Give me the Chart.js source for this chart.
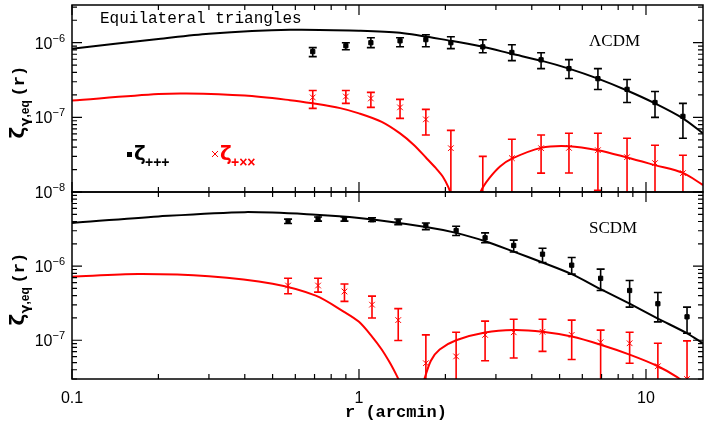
<!DOCTYPE html>
<html>
<head>
<meta charset="utf-8">
<script src="https://cdn.jsdelivr.net/npm/chart.js@4/dist/chart.umd.min.js"></script>
<style>
  body { margin: 0; background: #fff; }
  #wrap { position: relative; width: 708px; height: 424px; }
  canvas { position: absolute; left: 0; top: 0; }
</style>
</head>
<body>
<div id="wrap">
  <canvas id="topChart" width="708" height="424"></canvas>
  <canvas id="botChart" width="708" height="424"></canvas>
</div>
<script>
// ---- data (units of 1e-6) ----
// top panel: LCDM
const rTop = [0.69, 0.90, 1.10, 1.39, 1.71, 2.09, 2.70, 3.41, 4.31, 5.39, 6.80, 8.59, 10.75, 13.45];
const topPlus = [0.76, 0.91, 1.0, 1.06, 1.1, 1.0, 0.88, 0.74, 0.59, 0.45, 0.33, 0.237, 0.158, 0.103];
const topPlusHi = [0.858, 1.0, 1.166, 1.166, 1.28, 1.20, 1.096, 0.94, 0.735, 0.593, 0.45, 0.321, 0.222, 0.154];
const topPlusLo = [0.651, 0.806, 0.858, 0.884, 0.884, 0.832, 0.735, 0.575, 0.45, 0.331, 0.236, 0.158, 0.1, 0.0525];
const topCross = [0.185, 0.19, 0.179, 0.136, 0.094, 0.0386, 0.005, 0.0284, 0.0386, 0.039, 0.0363, 0.0293, 0.0244, 0.0179];
const topCrossHi = [0.229, 0.229, 0.216, 0.174, 0.128, 0.067, 0.030, 0.051, 0.058, 0.0613, 0.0613, 0.0525, 0.0423, 0.0311];
const topCrossLo = [0.132, 0.154, 0.136, 0.097, 0.058, 0.001, 0.001, 0.001, 0.0179, 0.018, 0.0105, 0.001, 0.001, 0.001];

const rTopModelPlus = [0.1, 0.2, 0.3, 0.575, 1.0, 1.39, 2.09, 2.70, 3.41, 4.31, 5.39, 6.80, 8.59, 10.75, 13.45, 15.8];
const topModelPlus = [0.83, 1.12, 1.32, 1.49, 1.45, 1.36, 1.06, 0.88, 0.71, 0.575, 0.45, 0.33, 0.229, 0.154, 0.097, 0.061];
const rTopModelCrossA = [0.1, 0.2, 0.25, 0.4, 0.575, 0.69, 0.86, 1.0, 1.2, 1.39, 1.55, 1.71, 1.85, 1.96, 2.05, 2.12];
const topModelCrossA = [0.168, 0.205, 0.209, 0.196, 0.17, 0.154, 0.133, 0.113, 0.087, 0.061, 0.043, 0.029, 0.021, 0.016, 0.0115, 0.008];
const rTopModelCrossB = [2.6, 2.7, 2.85, 3.1, 3.41, 4.31, 5.39, 6.80, 8.59, 10.75, 13.45, 15.8];
const topModelCrossB = [0.0085, 0.0115, 0.0155, 0.022, 0.028, 0.039, 0.041, 0.0363, 0.029, 0.0229, 0.018, 0.0124];

// bottom panel: SCDM
const rBot = [0.566, 0.72, 0.89, 1.11, 1.37, 1.71, 2.18, 2.75, 3.46, 4.36, 5.51, 6.95, 8.77, 11.0, 13.9];
const botPlus = [4.02, 4.32, 4.32, 4.23, 3.95, 3.52, 3.02, 2.41, 1.9, 1.45, 1.03, 0.685, 0.469, 0.311, 0.207];
const botPlusHi = [4.3, 4.6, 4.6, 4.5, 4.33, 3.82, 3.45, 2.81, 2.24, 1.74, 1.31, 0.91, 0.64, 0.44, 0.28];
const botPlusLo = [3.75, 4.05, 4.05, 4.0, 3.63, 3.11, 2.59, 2.07, 1.55, 1.12, 0.78, 0.47, 0.28, 0.177, 0.124];
const botCross = [0.547, 0.547, 0.455, 0.302, 0.187, 0.049, 0.0605, 0.118, 0.128, 0.13, 0.118, 0.094, 0.091, 0.0446, 0.03];
const botCrossHi = [0.685, 0.685, 0.575, 0.394, 0.267, 0.118, 0.128, 0.181, 0.192, 0.192, 0.187, 0.137, 0.128, 0.091, 0.098];
const botCrossLo = [0.423, 0.446, 0.334, 0.2, 0.099, 0.001, 0.001, 0.053, 0.0575, 0.0707, 0.055, 0.001, 0.049, 0.001, 0.001];

const rBotModelPlus = [0.1, 0.2, 0.4, 0.707, 1.0, 1.71, 2.18, 2.75, 3.46, 4.36, 5.51, 6.95, 8.77, 11.0, 13.9, 15.8];
const botModelPlus = [3.82, 4.68, 5.35, 4.94, 4.46, 3.38, 2.81, 2.17, 1.57, 1.12, 0.78, 0.49, 0.311, 0.196, 0.124, 0.091];
const rBotModelCrossA = [0.1, 0.17, 0.3, 0.5, 0.707, 0.89, 1.0, 1.11, 1.2, 1.28, 1.34, 1.39];
const botModelCrossA = [0.72, 0.78, 0.73, 0.58, 0.40, 0.24, 0.177, 0.112, 0.075, 0.05, 0.036, 0.027];
const rBotModelCrossB = [1.68, 1.78, 1.91, 2.18, 2.75, 3.46, 4.36, 5.51, 6.95, 8.77, 11.0, 12.8, 14.5];
const botModelCrossB = [0.028, 0.053, 0.075, 0.1, 0.127, 0.137, 0.13, 0.112, 0.087, 0.064, 0.0446, 0.032, 0.022];

const xMin = 0.1, xMax = 15.8;
const RED = "#ff0000";

const pts = (xs, ys) => xs.map((x, i) => ({ x: x, y: ys[i] * 1e-6 }));

function curve(xs, ys, color) {
  return { type: "line", data: pts(xs, ys), borderColor: color, borderWidth: 2,
    pointRadius: 0, tension: 0.3, fill: false };
}
function markers(xs, ys, color, style, r) {
  return { type: "scatter", data: pts(xs, ys), borderColor: color, backgroundColor: color,
    pointStyle: style, pointRadius: r, borderWidth: 1, showLine: false };
}

function sup(ctx, base, exp, xRight, y) {
  ctx.font = "16px 'Liberation Sans'";
  const wb = ctx.measureText(base).width;
  ctx.font = "11px 'Liberation Sans'";
  const we = ctx.measureText(exp).width;
  ctx.textAlign = "left";
  ctx.font = "16px 'Liberation Sans'";
  ctx.fillText(base, xRight - wb - we, y + 6);
  ctx.font = "11px 'Liberation Sans'";
  ctx.fillText(exp, xRight - we, y - 1);
}

// error bars + frame + inward ticks + labels
const decor = {
  id: "decor",
  afterDatasetsDraw(chart, args, opts) {
    const ctx = chart.ctx, a = chart.chartArea;
    const xs = chart.scales.x, ys = chart.scales.y;
    ctx.save();
    ctx.beginPath(); ctx.rect(a.left, a.top, a.right - a.left, a.bottom - a.top); ctx.clip();
    opts.bars.forEach(b => {
      ctx.strokeStyle = b.color; ctx.lineWidth = 1.6;
      b.x.forEach((r, i) => {
        const px = xs.getPixelForValue(r);
        const y1 = ys.getPixelForValue(b.hi[i] * 1e-6), y2 = ys.getPixelForValue(b.lo[i] * 1e-6);
        ctx.beginPath();
        ctx.moveTo(px, y1); ctx.lineTo(px, y2);
        ctx.moveTo(px - 4, y1); ctx.lineTo(px + 4, y1);
        ctx.moveTo(px - 4, y2); ctx.lineTo(px + 4, y2);
        ctx.stroke();
      });
    });
    ctx.restore();

    ctx.save();
    ctx.strokeStyle = "#000"; ctx.lineWidth = 1.5;
    ctx.strokeRect(a.left, a.top, a.right - a.left, a.bottom - a.top);
    ctx.lineWidth = 1.2;
    ctx.beginPath();
    [0.1, 1, 10].forEach(d => {
      for (let k = 1; k <= 9; k++) {
        const v = d * k;
        if (v < xMin || v > xMax) continue;
        const px = xs.getPixelForValue(v), L = k === 1 ? 10 : 5;
        ctx.moveTo(px, a.bottom); ctx.lineTo(px, a.bottom - L);
        ctx.moveTo(px, a.top); ctx.lineTo(px, a.top + L);
      }
    });
    for (let e = -9; e <= -4; e++) {
      for (let k = 1; k <= 9; k++) {
        const v = k * Math.pow(10, e);
        if (v < ys.min || v > ys.max) continue;
        const py = ys.getPixelForValue(v), L = k === 1 ? 10 : 5;
        ctx.moveTo(a.left, py); ctx.lineTo(a.left + L, py);
        ctx.moveTo(a.right, py); ctx.lineTo(a.right - L, py);
      }
    }
    ctx.stroke();

    ctx.fillStyle = "#000";
    opts.yLabels.forEach(e => sup(ctx, "10", "\u2212" + (-e), 65, ys.getPixelForValue(Math.pow(10, e))));
    if (opts.xLabels) {
      ctx.font = "16px 'Liberation Sans'"; ctx.textAlign = "center";
      [["0.1", 0.1], ["1", 1], ["10", 10]].forEach(([t, v]) => ctx.fillText(t, xs.getPixelForValue(v), 403));
      ctx.font = "bold 17px 'Liberation Mono'";
      ctx.fillText("r (arcmin)", 396, 417);
    }
    // y title
    const cy = (a.top + a.bottom) / 2;
    ctx.translate(24, cy); ctx.rotate(-Math.PI / 2);
    ctx.textAlign = "left";
    ctx.font = "bold 20px 'DejaVu Sans'"; ctx.fillText("\u03b6", -40, 0);
    ctx.font = "bold 13px 'DejaVu Sans'"; ctx.fillText("\u03b3", -28, 5);
    ctx.font = "bold 12px 'Liberation Sans'"; ctx.fillText(",eq", -19, 5);
    ctx.font = "bold 17px 'Liberation Mono'"; ctx.fillText("(r)", 2, 0);
    ctx.restore();

    ctx.save();
    ctx.fillStyle = "#000";
    ctx.font = "17px 'Liberation Serif'"; ctx.textAlign = "left";
    ctx.fillText(opts.model, 589, a.top + 41);
    if (opts.title) {
      ctx.font = "16px 'Liberation Mono'";
      ctx.fillText("Equilateral triangles", 100, 23);
      // legend
      ctx.fillRect(127, 152, 5, 5);
      ctx.font = "bold 20px 'DejaVu Sans'"; ctx.fillText("\u03b6", 134, 160);
      ctx.font = "bold 14px 'Liberation Sans'"; ctx.fillText("+++", 145, 167);
      ctx.strokeStyle = RED; ctx.fillStyle = RED; ctx.lineWidth = 1;
      ctx.beginPath(); ctx.moveTo(212, 151); ctx.lineTo(218, 157); ctx.moveTo(218, 151); ctx.lineTo(212, 157); ctx.stroke();
      ctx.font = "bold 20px 'DejaVu Sans'"; ctx.fillText("\u03b6", 220, 160);
      ctx.font = "bold 14px 'Liberation Sans'"; ctx.fillText("+\u00d7\u00d7", 231, 167);
    }
    ctx.restore();
  }
};

function makeChart(id, pad, yMin, yMax, datasets, opts) {
  return new Chart(document.getElementById(id).getContext("2d"), {
    type: "scatter",
    data: { datasets: datasets },
    options: {
      responsive: false, devicePixelRatio: 1, animation: false,
      layout: { padding: pad },
      plugins: { legend: { display: false }, tooltip: { enabled: false }, decor: opts },
      scales: {
        x: { type: "logarithmic", min: xMin, max: xMax, display: false },
        y: { type: "logarithmic", min: yMin, max: yMax, display: false }
      }
    },
    plugins: [decor]
  });
}

makeChart("topChart", { left: 72, right: 5, top: 4, bottom: 232 }, 1e-8, 3.2e-6, [
  curve(rTopModelPlus, topModelPlus, "#000"),
  curve(rTopModelCrossA, topModelCrossA, RED),
  curve(rTopModelCrossB, topModelCrossB, RED),
  markers(rTop, topPlus, "#000", "rect", 3),
  markers(rTop, topCross, RED, "crossRot", 4)
], {
  bars: [{ x: rTop, hi: topPlusHi, lo: topPlusLo, color: "#000" },
         { x: rTop, hi: topCrossHi, lo: topCrossLo, color: RED }],
  yLabels: [-6, -7, -8], model: "\u039bCDM", title: true, xLabels: false
});

makeChart("botChart", { left: 72, right: 5, top: 192, bottom: 45 }, 3.2e-8, 1e-5, [
  curve(rBotModelPlus, botModelPlus, "#000"),
  curve(rBotModelCrossA, botModelCrossA, RED),
  curve(rBotModelCrossB, botModelCrossB, RED),
  markers(rBot, botPlus, "#000", "rect", 3),
  markers(rBot, botCross, RED, "crossRot", 4)
], {
  bars: [{ x: rBot, hi: botPlusHi, lo: botPlusLo, color: "#000" },
         { x: rBot, hi: botCrossHi, lo: botCrossLo, color: RED }],
  yLabels: [-6, -7], model: "SCDM", title: false, xLabels: true
});
</script>
</body>
</html>
